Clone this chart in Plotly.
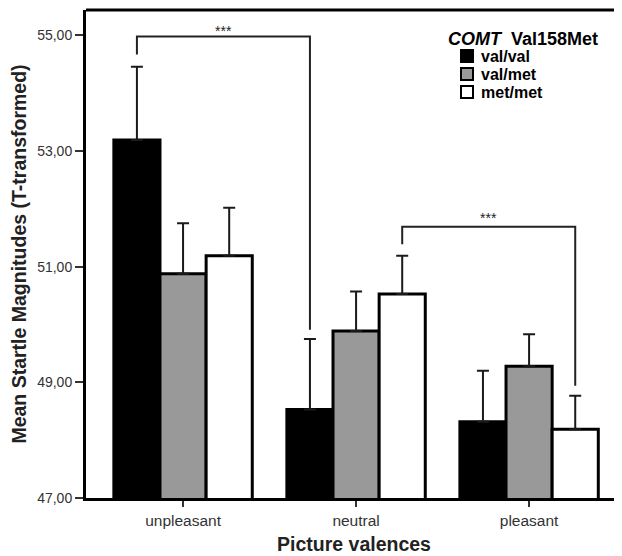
import plotly.graph_objects as go

categories = ["unpleasant", "neutral", "pleasant"]
groups = ["val/val", "val/met", "met/met"]
means_valval = [53.19, 48.53, 48.32]
means_valmet = [50.88, 49.89, 49.28]
means_metmet = [51.19, 50.53, 48.19]
err_valval = [1.27, 1.22, 0.88]
err_valmet = [0.87, 0.68, 0.55]
err_metmet = [0.83, 0.66, 0.58]
colors = ["#000000", "#999999", "#ffffff"]
ytick_vals = [47, 49, 51, 53, 55]
ytick_text = ["47,00", "49,00", "51,00", "53,00", "55,00"]

# significance brackets: (cat index, group index) pairs, top y, left drop, right drop, label y
brackets = [
    ((0, 0), (1, 0), 54.98, 54.67, 49.91, 55.08),
    ((1, 2), (2, 2), 51.69, 51.39, 48.94, 51.84),
]

fig = go.Figure()
for name, vals, errs, col in zip(groups, [means_valval, means_valmet, means_metmet],
                                 [err_valval, err_valmet, err_metmet], colors):
    fig.add_trace(go.Bar(
        x=categories, y=vals, name=name,
        marker=dict(color=col, line=dict(color="black", width=3)),
        error_y=dict(type="data", array=errs, arrayminus=[0] * len(errs),
                     symmetric=False, color="#1a1a1a", thickness=2, width=6),
    ))

bargap = 0.2
nb = len(groups)
bw = (1 - bargap) / nb

def xpos(ci, gi):
    return ci - (1 - bargap) / 2 + bw * (gi + 0.5)

for (a, b, ytop, yl, yr, ylab) in brackets:
    x0 = xpos(*a)
    x1 = xpos(*b)
    fig.add_shape(type="path", xref="x", yref="y",
                  path=f"M{x0},{yl} L{x0},{ytop} L{x1},{ytop} L{x1},{yr}",
                  line=dict(color="#222222", width=2))
    fig.add_annotation(x=(x0 + x1) / 2, y=ylab, xref="x", yref="y", text="***",
                       showarrow=False, font=dict(size=14, color="#222222",
                                                  family="Liberation Sans"))

# top frame line
fig.add_shape(type="line", xref="paper", yref="paper", x0=0, x1=1, y0=1, y1=1,
              line=dict(color="black", width=3))

# manual legend (paper coordinates)
fig.add_annotation(xref="paper", yref="paper", x=0.6716, y=0.9406,
                   xanchor="left", yanchor="middle", showarrow=False,
                   text="<i><b>COMT</b></i>  <b>Val158Met</b>",
                   font=dict(size=18, color="black", family="Liberation Sans"))
row_py = [56, 74, 92]
for name, col, py in zip(groups, colors, row_py):
    yc = (498 - py) / 488
    h = 12 / 488
    fig.add_shape(type="rect", xref="paper", yref="paper",
                  x0=(461 - 86) / 536, x1=(473 - 86) / 536, y0=yc - h / 2, y1=yc + h / 2,
                  fillcolor=col, line=dict(color="black", width=2))
    fig.add_annotation(xref="paper", yref="paper", x=(479 - 86) / 536, y=yc,
                       xanchor="left", yanchor="middle", showarrow=False,
                       text=f"<b>{name}</b>",
                       font=dict(size=16, color="black", family="Liberation Sans"))

fig.update_layout(
    width=614, height=548,
    margin=dict(l=78, r=0, t=2, b=58),
    paper_bgcolor="white", plot_bgcolor="white",
    barmode="group", bargap=bargap, bargroupgap=0,
    font=dict(family="Liberation Sans, Arial", color="#222222"),
    showlegend=False,
    xaxis=dict(
        range=[-0.561, 2.537], showgrid=False, zeroline=False,
        showline=True, linecolor="black", linewidth=3,
        ticks="outside", ticklen=6, tickwidth=1.5, tickcolor="#333333",
        tickfont=dict(size=15.5, color="#333333"),
        title=dict(text="<b>Picture valences</b>", font=dict(size=19.5, color="#222222"),
                   standoff=10),
    ),
    yaxis=dict(
        range=[47, 55.44], showgrid=False, zeroline=False,
        showline=True, linecolor="black", linewidth=3,
        ticks="outside", ticklen=8, tickwidth=1.5, tickcolor="#333333",
        tickvals=ytick_vals, ticktext=ytick_text,
        tickfont=dict(size=14, color="#333333"),
        title=dict(text="<b>Mean Startle Magnitudes (T-transformed)</b>",
                   font=dict(size=19.5, color="#222222"), standoff=6),
    ),
)

fig.write_html("out.html")
